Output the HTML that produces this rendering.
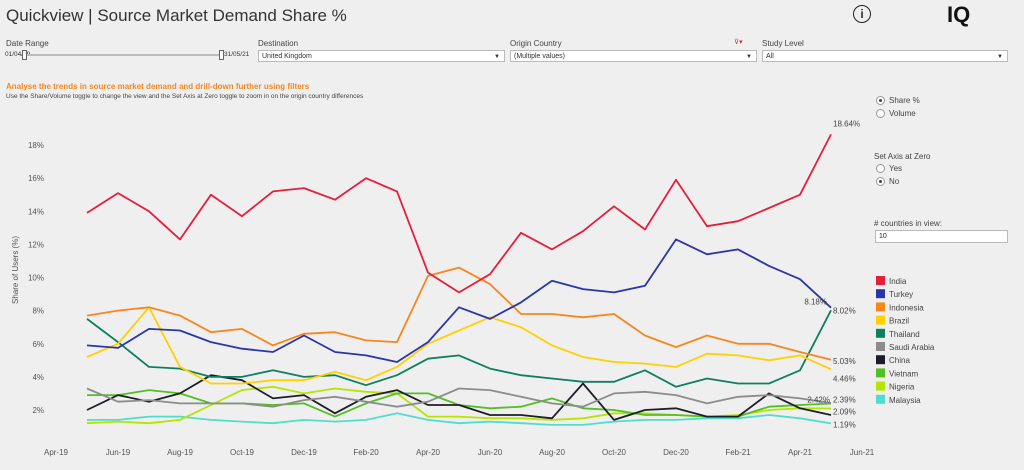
<!DOCTYPE html>
<html><head><meta charset="utf-8">
<style>
body{margin:0;width:1024px;height:470px;background:#efefef;font-family:"Liberation Sans",sans-serif;color:#333;position:relative;overflow:hidden}
.a{position:absolute;white-space:nowrap}
.dd{position:absolute;height:12px;border:1px solid #bbb;background:#fff;font-size:7px;line-height:12px;padding-left:3px;box-sizing:border-box}
.dd span{position:absolute;right:4px;top:0;font-size:6px}
.lbl{font-size:8px;color:#444}
.radio{display:inline-block;width:7px;height:7px;border:1px solid #999;border-radius:50%;background:#fff;vertical-align:middle;margin-right:4px;position:relative}
.radio.on::after{content:"";position:absolute;left:2px;top:2px;width:3px;height:3px;border-radius:50%;background:#444}
</style></head><body>
<div class="a" style="left:6px;top:6px;font-size:17px;color:#333">Quickview | Source Market Demand Share %</div>
<div class="a" style="left:853px;top:5px;width:16px;height:16px;border:1.5px solid #222;border-radius:50%;text-align:center;font-size:12px;font-weight:bold;line-height:16px">i</div>
<div class="a" style="left:947px;top:2px;font-size:22px;font-weight:bold;color:#111">IQ</div>

<div class="a lbl" style="left:6px;top:39px">Date Range</div>
<div class="a" style="left:5px;top:51px;font-size:6.5px">01/04/19</div>
<div class="a" style="left:24px;top:54px;width:196px;height:2px;background:#bbb"></div>
<div class="a" style="left:22px;top:50px;width:3px;height:8px;border:1px solid #666;background:#fff"></div>
<div class="a" style="left:219px;top:50px;width:3px;height:8px;border:1px solid #666;background:#fff"></div>
<div class="a" style="left:224px;top:51px;font-size:6.5px">31/05/21</div>

<div class="a lbl" style="left:258px;top:39px">Destination</div>
<div class="dd" style="left:258px;top:50px;width:247px">United Kingdom<span>▼</span></div>
<div class="a lbl" style="left:510px;top:39px">Origin Country</div>
<div class="a" style="left:734px;top:38px;font-size:7px;color:#c33">⊽▾</div>
<div class="dd" style="left:510px;top:50px;width:247px">(Multiple values)<span>▼</span></div>
<div class="a lbl" style="left:762px;top:39px">Study Level</div>
<div class="dd" style="left:762px;top:50px;width:246px">All<span>▼</span></div>

<div class="a" style="left:6px;top:82px;font-size:8px;font-weight:bold;color:#f7861e">Analyse the trends in source market demand and drill-down further using filters</div>
<div class="a" style="left:6px;top:93px;font-size:6.5px;color:#444">Use the Share/Volume toggle to change the view and the Set Axis at Zero toggle to zoom in on the origin country differences</div>

<div class="a lbl" style="left:876px;top:96px"><span class="radio on"></span>Share %</div>
<div class="a lbl" style="left:876px;top:109px"><span class="radio"></span>Volume</div>
<div class="a lbl" style="left:874px;top:152px">Set Axis at Zero</div>
<div class="a lbl" style="left:876px;top:164px"><span class="radio"></span>Yes</div>
<div class="a lbl" style="left:876px;top:177px"><span class="radio on"></span>No</div>
<div class="a lbl" style="left:874px;top:219px"># countries in view:</div>
<div class="dd" style="left:875px;top:230px;width:133px;height:13px;font-size:7px;color:#222">10</div>

<svg id="chart" class="a" style="left:0;top:0" width="1024" height="470"></svg>

<script>
const months=["May-19","Jun-19","Jul-19","Aug-19","Sep-19","Oct-19","Nov-19","Dec-19","Jan-20","Feb-20","Mar-20","Apr-20","May-20","Jun-20","Jul-20","Aug-20","Sep-20","Oct-20","Nov-20","Dec-20","Jan-21","Feb-21","Mar-21","Apr-21","May-21"];
const countries=["India","Turkey","Indonesia","Brazil","Thailand","Saudi Arabia","China","Vietnam","Nigeria","Malaysia"];
const colors=["#e41f3c","#2a35a8","#f7861e","#ffd100","#0d8060","#8c8c8c","#1e1e28","#52c021","#b5e500","#4fdecb"];
const india=[13.9,15.1,14.0,12.3,15.0,13.7,15.2,15.4,14.7,16.0,15.2,10.3,9.1,10.2,12.7,11.7,12.8,14.3,12.9,15.9,13.1,13.4,14.2,15.0,18.64];
const turkey=[5.9,5.75,6.9,6.8,6.1,5.7,5.5,6.5,5.5,5.3,4.9,6.1,8.2,7.5,8.5,9.8,9.3,9.1,9.5,12.3,11.4,11.7,10.7,9.9,8.18];
const indonesia=[7.7,8.0,8.2,7.7,6.7,6.9,5.9,6.6,6.7,6.2,6.1,10.1,10.6,9.6,7.8,7.8,7.6,7.8,6.5,5.8,6.5,6.0,6.0,5.5,5.03];
const brazil=[5.2,6.0,8.2,4.6,3.6,3.6,3.8,3.8,4.3,3.8,4.6,6.0,6.8,7.6,7.0,5.9,5.2,4.9,4.8,4.6,5.4,5.3,5.0,5.3,4.46];
const thailand=[7.5,6.1,4.6,4.5,4.0,4.0,4.4,4.0,4.1,3.5,4.1,5.1,5.3,4.5,4.1,3.9,3.7,3.7,4.4,3.4,3.9,3.6,3.6,4.4,8.02];
const saudi=[3.3,2.5,2.6,2.4,2.4,2.4,2.2,2.6,2.8,2.5,2.2,2.5,3.3,3.2,2.8,2.4,2.2,3.0,3.1,2.9,2.4,2.8,2.9,2.7,2.42];
const china=[2.0,2.9,2.5,3.0,4.1,3.8,2.7,2.9,1.8,2.8,3.2,2.3,2.3,1.7,1.7,1.5,3.6,1.4,2.0,2.1,1.6,1.6,3.0,2.1,1.7];
const vietnam=[2.9,2.9,3.2,3.0,2.4,2.4,2.3,2.4,1.6,2.4,3.0,3.0,2.3,2.1,2.2,2.7,2.1,2.0,1.7,1.7,1.6,1.6,2.2,2.3,2.39];
const nigeria=[1.2,1.3,1.2,1.4,2.3,3.2,3.4,3.0,3.3,3.1,3.0,1.6,1.6,1.5,1.5,1.4,1.5,1.8,1.8,1.7,1.6,1.7,2.0,2.1,2.09];
const malaysia=[1.4,1.4,1.6,1.6,1.4,1.3,1.2,1.4,1.3,1.4,1.8,1.4,1.2,1.3,1.2,1.1,1.1,1.3,1.4,1.4,1.5,1.5,1.7,1.5,1.19];
const series=[india,turkey,indonesia,brazil,thailand,saudi,china,vietnam,nigeria,malaysia];
const yTicks=[2,4,6,8,10,12,14,16,18];
const xTickLabels=["Apr-19","Jun-19","Aug-19","Oct-19","Dec-19","Feb-20","Apr-20","Jun-20","Aug-20","Oct-20","Dec-20","Feb-21","Apr-21","Jun-21"];
const endLabels=[["18.64%",0,-8],["8.02%",4,3],["5.03%",2,4],["4.46%",3,12],["2.39%",7,-1],["2.09%",8,6],["1.19%",9,4]];

const NS="http://www.w3.org/2000/svg";
const svg=document.getElementById('chart');
const X=i=>56+(i+1)*31.0;
const Y=v=>410-(v-2)*16.56;
function mk(tag,attrs,parent){const e=document.createElementNS(NS,tag);for(const k in attrs)e.setAttribute(k,attrs[k]);(parent||svg).appendChild(e);return e;}

yTicks.forEach(t=>{
  const e=mk('text',{x:44,y:Y(t)+3,'text-anchor':'end','font-size':8,fill:'#555'});
  e.textContent=t+'%';
  
  
});
xTickLabels.forEach((l,k)=>{
  const e=mk('text',{x:X(k*2-1),y:455,'text-anchor':'middle','font-size':8,fill:'#555'});
  e.textContent=l;
  
  
});
const yt=mk('text',{x:0,y:0,transform:'translate(18,270) rotate(-90)','text-anchor':'middle','font-size':8,fill:'#555'});
yt.textContent='Share of Users (%)';



for(let s=series.length-1;s>=0;s--){
  const d=series[s].map((v,i)=>(i?'L':'M')+X(i).toFixed(1)+','+Y(v).toFixed(1)).join(' ');
  const p=mk('path',{d:d,fill:'none',stroke:colors[s],'stroke-width':1.8,'stroke-linejoin':'round'});
  
  
}
endLabels.forEach(([t,s,off])=>{
  const last=series[s][series[s].length-1];
  const e=mk('text',{x:X(24)+2,y:Y(last)+off,'font-size':8,fill:'#444'});
  e.textContent=t;
  
  
});
const l1=mk('text',{x:X(24)-4,y:Y(turkey[24])-3,'text-anchor':'end','font-size':8,fill:'#444'});
l1.textContent=turkey[24].toFixed(2)+'%';


const l2=mk('text',{x:X(24)-1,y:Y(vietnam[24])-1,'text-anchor':'end','font-size':8,fill:'#444'});
l2.textContent=saudi[24].toFixed(2)+'%';



countries.forEach((c,k)=>{
  const yy=276+k*13.2;
  const r=mk('rect',{x:876,y:yy,width:9,height:9,fill:colors[k]});
  
  
  const t=mk('text',{x:889,y:yy+8,'font-size':8,fill:'#444'});
  t.textContent=c;
  
  
});
</script>
</body></html>
